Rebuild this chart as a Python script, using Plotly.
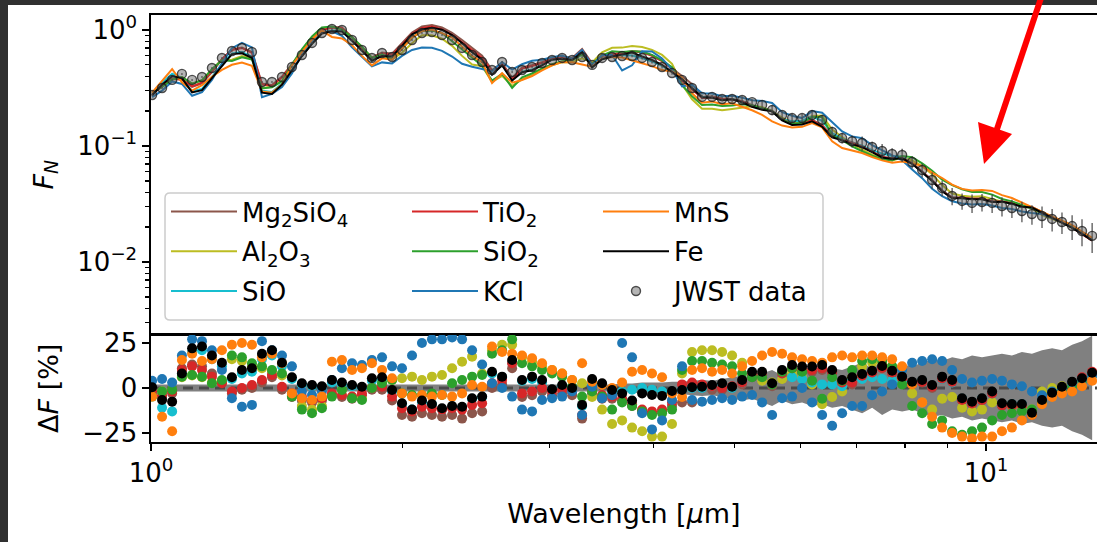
import plotly.graph_objects as go

# ---------------- data ----------------
wavelength = [1.003, 1.031, 1.060, 1.089, 1.120, 1.151, 1.183, 1.216, 1.250, 1.285,
              1.321, 1.358, 1.396, 1.435, 1.475, 1.516, 1.559, 1.602, 1.647, 1.693,
              1.741, 1.789, 1.839, 1.891, 1.944, 1.998, 2.054, 2.111, 2.170, 2.231,
              2.294, 2.358, 2.424, 2.492, 2.561, 2.633, 2.707, 2.782, 2.860, 2.940,
              3.022, 3.107, 3.194, 3.283, 3.375, 3.469, 3.566, 3.666, 3.768, 3.874,
              3.981, 4.093, 4.207, 4.325, 4.446, 4.570, 4.698, 4.830, 4.965, 5.104,
              5.246, 5.393, 5.544, 5.699, 5.858, 6.022, 6.190, 6.364, 6.542, 6.725,
              6.913, 7.106, 7.305, 7.509, 7.719, 7.935, 8.157, 8.385, 8.619, 8.860,
              9.108, 9.361, 9.622, 9.890, 10.17, 10.45, 10.74, 11.04, 11.35, 11.67,
              12.00, 12.33, 12.68, 13.03, 13.40]

jwst_flux = [0.275, 0.316, 0.371, 0.418, 0.371, 0.393, 0.470, 0.574, 0.659, 0.700,
             0.646, 0.356, 0.356, 0.393, 0.480, 0.609, 0.773, 0.942, 1.02, 1.00,
             0.820, 0.672, 0.574, 0.633, 0.585, 0.672, 0.820, 0.942, 0.961, 0.905,
             0.820, 0.700, 0.609, 0.530, 0.452, 0.530, 0.434, 0.452, 0.480, 0.519,
             0.551, 0.574, 0.551, 0.585, 0.500, 0.574, 0.585, 0.597, 0.597, 0.574,
             0.530, 0.480, 0.426, 0.371, 0.316, 0.265, 0.265, 0.254, 0.254, 0.249,
             0.239, 0.226, 0.204, 0.185, 0.174, 0.174, 0.185, 0.168, 0.132, 0.117,
             0.110, 0.106, 0.098, 0.0905, 0.0853, 0.0836, 0.0728, 0.0621, 0.0509, 0.0434,
             0.0371, 0.0336, 0.0323, 0.0329, 0.0323, 0.0304, 0.0292, 0.0275, 0.0259, 0.0249,
             0.0235, 0.0221, 0.0204, 0.0185, 0.0168]

# data uncertainty in percent (grey band of the lower panel)
err_pct = [2, 2, 2, 2, 2, 2, 2, 2, 2, 2,
           2, 2, 2, 2, 2, 2, 2, 2, 2, 2,
           2, 2, 2, 2, 2, 2, 2, 2, 2, 2,
           2, 2, 2, 2, 2, 2, 2, 2, 2, 2,
           2, 2, 2, 2, 2, 2, 2, 2.5, 2.5, 3,
           3, 3, 3.5, 3.5, 4, 4.5, 4, 5, 6, 7,
           6, 8, 10, 7, 9, 8, 10, 9, 11, 10,
           12, 14, 11, 15, 12, 13, 12, 14, 16, 15,
           17, 16, 18, 17, 18, 19, 18, 20, 19, 21,
           22, 21, 24, 26, 29]

# residuals Delta F = (data - model) / data  [%]
fe = [0.4, -6.7, -7.6, 8, 22, 23, 18, 14, 6, 10, 11, 19, 21, 14, 6, 2.6, 1.7, 1, 4.4, 3, 1.7, 0.7, 5.4, 6,
      -1.1, -8.5, -12, -7, -8.9, -11.3, -10, -10.4, -5.7, -4.8, 9, 6.3, 15.5, 4.4, 6.3, 4.4, -0.7, 1.7, 0, -9.4, 5, 2.6, -1.1,
      -3, -7, -3, -3.9, -4.4, -1.7, -1.1, 0.4, 0.7, 1.7, 2.6, 0.7, 4.4, 9, 9, 2.6, 10, 12.8, 11.9, 11.9, 12.8, 10, 4.4, 6,
      7.8, 9.6, 12.2, 9.6, 6.3, 3.5, 4.4, 1.7, 6.3, 4.4, -5.7, -7.6, -5.7, -2, -8.5, -8.9, -8.9, -13.7, -6.7, -2.6, 0.7, 3.5, 5.4, 8.5]
mns = [-4.8, -16, -24, 15.5, 19, 15, 16, 21, 24, 25, 24, 17, 19, 13.7, -3, -5.7, -6.7, -4.8, 14.6, 15.5, 10, 11, 13.7, 10,
       5.4, -3, -4.8, -3.9, -4.8, -3.9, -4.8, -3, 1.7, 0.7, 23, 20, 19, 18, 16.5, 13.7, 10, 8, 4.4, 13.7, 3.5, 1.7, 0,
       3, 9, 10, 8, 6, -3, -5, 10, 11, 9, 10, 8, 12, 15, 18, 20, 19, 17, 16, 15, 14, 17, 18, 17,
       18, 18, 17, 16, 12, 2, -8, -16, -22, -25, -27, -28, -27, -27, -24, -22, -18, -15, -9, -5, -3, -2, 1, 4]
kcl = [4, 5, 3, 18, 27, 26, 21, 10, -5.7, -10.4, -9.4, 26, 21, 18, 12, -2, -3.9, -2, 4.4, 11, 13.7, 12.8, 15.5, 17,
       12, 11, 18, 25, 27, 27, 28, 27, 21, 13, 2.6, 0, -4.8, -12, -13, -6.7, -5.7, -4.8, -2, -15, 0.7, -5.7, -4,
       25, 17, -14, -23, -18, -6.7, 12, -6.7, -7.6, -6.7, -5.7, -6.7, -4.8, -3.9, -8, -15, -5.7, -4.8, 0, -8, -15, -21, -14, -10,
       -10, -4, -2, 2, 10, 14, 15, 16, 15, 10, 5, 3, 4, 5, 4, 2, 1, -2, -4, -2, 0, 3, 5, 7]
sio2 = [-4.8, -2, -1, 6.3, 7.2, 6.3, 2.6, 4.4, 18, 17, 13.7, 12, 10, 8, -4.8, -12, -14, -11.3, -4.8, -1.1, -5.7, -6.7, 0, 2.6,
        4.4, -3, -3.9, -3.9, -3, -3.9, 2.6, 4.4, 6.3, 7.2, 19, 21, 27, 13.7, 12, 10, 8, 6.3, 0.7, -4.8, -2, -4.8, -12,
        -8, -10, -13, -15, -14, -12, 10, 15, 15, 14, 13, 12, 8, 6, 6, 2, 9, 11, 9, 4, -6, 6, 4, 10,
        15, 16, 15, 12, 2, -10, -14, -20, -18, -24, -26, -24, -22, -18, -15, -14, -13, -12, -8, -3, -1, 1, 4, 7]
tio2 = [-2, -4, -2, 10, 12, 10, 6.3, 2.6, -2, 0, 1.7, 4.4, 7.2, 0.7, -3, -4.8, -6.7, -5.7, -3, -3.9, -4.8, -3, 0, 0.7,
        -4.8, -11.3, -13, -10.4, -11.3, -12, -11.3, -12, -9.4, -8.5, 2.6, 4.4, 13.7, -3, -2, 0, -2, -1, -2, -15, -1, -3.9, -4.8,
        -6, -9, -12, -13, -12, -8, 2, 3, 2, 1, 0, 1, 3, 7, 7, 2, 8, 11, 10, 10, 11, 9, 3, 3,
        6.8, 8.6, 11.2, 8.6, 5.3, 2.5, 3.4, 0.7, 5.3, 3.4, -6.7, -8.6, -6.7, -3, -9.5, -9.9, -9.9, -14.7, -7.7, -3.6, 0, 3, 6, 9]
mg2sio4 = [-3, -5, -3, 11, 13, 12, 8, 3, -3, -1, 0, 3, 6, -1, -5, -7, -8, -7, -4, -5, -6, -4, -1, -1,
           -7, -15, -16, -14, -15, -16, -15, -17, -14, -13, 0, 2, 11, -5, -4, -2, -4, -3, -4, -17, -3, -6, -6,
           -7, -10, -13, -14, -13, -10, -8, -8, 0, -1, -1, 0, 2, 6, 6, 1, 7, 10, 9, 9, 10, 8, 2, 2,
           6, 8, 11, 8, 5, 2, 3, 0, 5, 3, -7, -9, -7, -3, -10, -10, -10, -15, -8, -4, 0, 3, 5, 8]
sio = [-2, -11, -13, 8, 20, 21, 16, 12, 5, 8, 9, 16, 18, 12, 5, 2, 1, 0, 3, 2, 1, 0, 4, 5,
       -2, -9, -12, -8, -9, -12, -11, -11, -6, -5, 8, 6, 14, 4, 5, 3, -1, 1, 0, -10, 2, 2, -2,
       -2, -1, 0, -1, -2, -2, -1, 0, 0, 1, 2, 0, 3, 7, 7, 2, 8, 6, 5, 3, 2, 2, 1, 4,
       5, 6, 5, 4, 3, 3, 4, 1, 5, 3, -6, -8, -6, -3, -9, -9, -9, -14, -7, -3, 0, 3, 5, 8]
al2o3 = [-4, -2, -1, 6, 7, 6, 3, 4, 16, 15, 12, 11, 9, 7, -4, -10, -12, -10, -4, -1, -5, -6, 0, 4,
         4.4, 5.4, 6.3, 4.4, 6.3, 7.2, 11, 14.6, 17.4, 8, 21, 24, 24, 17, 14.6, 12, 10, 8, 4.4, 2.6, -5, -12, -20,
         -18, -22, -24, -27, -27, -20, 8, 20, 21, 21, 20, 18, 14, 8, 4, 3, 5, 8, 6, 2, -9, -5, -2, 6,
         12, 14, 14, 12, 5, -3, -8, -12, -6, -5, -11, -13, -12, -8, -9, -10, -10, -12, -2, 0, 1, 3, 5, 8]

for arr in (jwst_flux, err_pct, fe, mns, kcl, sio2, tio2, mg2sio4, sio, al2o3):
    assert len(arr) == len(wavelength), len(arr)

species = [
    ("Mg<sub>2</sub>SiO<sub>4</sub>", mg2sio4, "#8c564b", "legend"),
    ("Al<sub>2</sub>O<sub>3</sub>", al2o3, "#bcbd22", "legend"),
    ("SiO", sio, "#17becf", "legend"),
    ("TiO<sub>2</sub>", tio2, "#d62728", "legend2"),
    ("SiO<sub>2</sub>", sio2, "#2ca02c", "legend2"),
    ("KCl", kcl, "#1f77b4", "legend2"),
    ("MnS", mns, "#ff7f0e", "legend3"),
    ("Fe", fe, "#000000", "legend3"),
]

fig = go.Figure()

# ---------------- upper panel: models + data ----------------
for name, dF, col, lg in species:
    model = [f * (1 - d / 100.0) for f, d in zip(jwst_flux, dF)]
    fig.add_trace(go.Scatter(x=wavelength, y=model, mode="lines",
                             line=dict(color=col, width=2), name=name,
                             legend=lg, legendgroup=name,
                             xaxis="x", yaxis="y"))

fig.add_trace(go.Scatter(
    x=wavelength, y=jwst_flux, mode="markers", name="JWST data",
    marker=dict(size=9, color="rgba(90,90,90,0.45)",
                line=dict(color="rgba(25,25,25,0.75)", width=1.4)),
    error_y=dict(type="data", array=[f * e / 100.0 for f, e in zip(jwst_flux, err_pct)],
                 color="rgba(60,60,60,0.75)", thickness=1.5, width=0),
    legend="legend3", legendgroup="jwst", xaxis="x", yaxis="y"))

# ---------------- lower panel: residuals ----------------
fig.add_trace(go.Scatter(x=wavelength, y=[-e for e in err_pct], mode="lines",
                         line=dict(width=0, color="grey"), showlegend=False,
                         hoverinfo="skip", xaxis="x2", yaxis="y2"))
fig.add_trace(go.Scatter(x=wavelength, y=err_pct, mode="lines",
                         line=dict(width=0, color="grey"), fill="tonexty",
                         fillcolor="rgb(128,128,128)", showlegend=False,
                         hoverinfo="skip", xaxis="x2", yaxis="y2"))
fig.add_trace(go.Scatter(x=[1.0, 13.6], y=[0, 0], mode="lines",
                         line=dict(color="#4a4a4a", width=3, dash="10px,6px"),
                         showlegend=False, xaxis="x2", yaxis="y2"))
for name, dF, col, lg in species:
    fig.add_trace(go.Scatter(x=wavelength, y=dF, mode="markers",
                             marker=dict(size=10, color=col, line=dict(width=0)),
                             showlegend=False, xaxis="x2", yaxis="y2"))

# ---------------- layout ----------------
W, H = 1097, 542
L, R, T, B = 151, 0, 15, 100
PW, PH = W - L - R, H - T - B


def px(xp):
    return (xp - L) / PW


def py(yp):
    return (H - B - yp) / PH


split = py(334.5)
axis_font = dict(family="DejaVu Sans", size=26, color="black")
title_font = dict(family="DejaVu Sans", size=27, color="black")
line_style = dict(showline=True, linecolor="black", linewidth=1.6, showgrid=False,
                  zeroline=False, automargin=False)
tick_style = dict(ticks="outside", ticklen=7, tickwidth=1.5, tickcolor="black")
minor_style = dict(ticks="outside", ticklen=4, tickwidth=1.2, tickcolor="black", showgrid=False)

y_minor = [m * 10.0 ** e for e in (-3, -2, -1) for m in range(2, 10)]

leg_common = dict(bgcolor="rgba(0,0,0,0)", borderwidth=0, font=axis_font,
                  xanchor="left", yanchor="top", y=py(188), tracegroupgap=3,
                  itemwidth=66, orientation="v")

fig.update_layout(
    width=W, height=H, margin=dict(l=L, r=R, t=T, b=B, autoexpand=False),
    paper_bgcolor="#303030", plot_bgcolor="white",
    font=axis_font, showlegend=True,
    xaxis=dict(type="log", range=[0, 1.1329], domain=[0, 1], anchor="y",
               showticklabels=False, ticks="", mirror=True, **line_style),
    yaxis=dict(type="log", range=[-2.625, 0.129], domain=[split, 1], anchor="x",
               tickvals=[0.01, 0.1, 1],
               ticktext=["10<sup>−2</sup>", "10<sup>−1</sup>", "10<sup>0</sup>"],
               minor=dict(tickvals=y_minor, **minor_style),
               title=dict(text="<i>F<sub>N</sub></i>", standoff=16, font=title_font),
               **tick_style, **line_style),
    xaxis2=dict(type="log", range=[0, 1.1329], domain=[0, 1], anchor="y2",
                tickvals=[1, 10], ticktext=["10<sup>0</sup>", "10<sup>1</sup>"],
                minor=dict(tickvals=[2, 3, 4, 5, 6, 7, 8, 9], **minor_style),
                title=dict(text="Wavelength [<i>μ</i>m]", standoff=17, font=title_font),
                mirror=True, **tick_style, **line_style),
    yaxis2=dict(range=[-30, 29.7], domain=[0, split], anchor="x2",
                tickvals=[-25, 0, 25], ticktext=["−25", "0", "25"],
                title=dict(text="Δ<i>F</i> [%]", standoff=16, font=title_font),
                **tick_style, **line_style),
    legend=dict(x=px(166), **leg_common),
    legend2=dict(x=px(407), **leg_common),
    legend3=dict(x=px(598), **leg_common),
)

# white figure area inside the dark screenshot border
fig.add_shape(type="rect", xref="paper", yref="paper", layer="below",
              x0=px(8), x1=px(W + 5), y0=py(H + 5), y1=py(5),
              fillcolor="white", line=dict(width=0))

# rounded legend frame
x0, x1, y0, y1 = px(165), px(823), py(320), py(193)
dx, dy = 5 / PW, 5 / PH
frame = (f"M {x0+dx},{y0} L {x1-dx},{y0} Q {x1},{y0} {x1},{y0+dy} "
         f"L {x1},{y1-dy} Q {x1},{y1} {x1-dx},{y1} L {x0+dx},{y1} "
         f"Q {x0},{y1} {x0},{y1-dy} L {x0},{y0+dy} Q {x0},{y0} {x0+dx},{y0} Z")
fig.add_shape(type="path", path=frame, xref="paper", yref="paper", layer="above",
              fillcolor="rgba(255,255,255,0.8)", line=dict(color="#cccccc", width=1.5))

# red annotation arrow
fig.add_shape(type="line", xref="paper", yref="paper", layer="above",
              x0=px(1041), y0=py(-2), x1=px(995), y1=py(135),
              line=dict(color="#ff0000", width=6))
fig.add_shape(type="path", xref="paper", yref="paper", layer="above",
              path=f"M {px(978)},{py(122)} L {px(1012)},{py(134)} L {px(984)},{py(164)} Z",
              fillcolor="#ff0000", line=dict(width=0))

fig.write_html("out.html",
               config={"displayModeBar": False, "staticPlot": True},
               post_script="document.body.style.margin='0';"
                           "document.body.style.overflow='hidden';")
